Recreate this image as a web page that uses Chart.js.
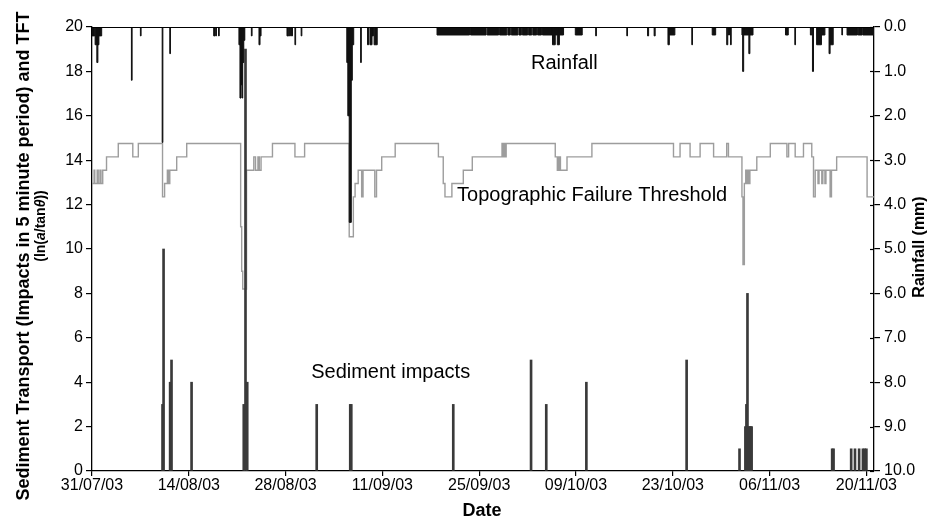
<!DOCTYPE html>
<html>
<head>
<meta charset="utf-8">
<title>Sediment transport, TFT and rainfall</title>
<script src="https://cdn.jsdelivr.net/npm/chart.js@4.4.1/dist/chart.umd.min.js"></script>
<style>
    html, body { margin: 0; padding: 0; background: #fff; }
    #wrap { width: 927px; height: 522px; }
</style>
</head>
<body>
<div id="wrap"><canvas id="chart" width="927" height="522"></canvas></div>
<script>
// all x values are days counted from 31/07/03
var dateTickDays = [0, 14, 28, 42, 56, 70, 84, 98, 112];
var dateTickLabels = ['31/07/03', '14/08/03', '28/08/03', '11/09/03', '25/09/03',
    '09/10/03', '23/10/03', '06/11/03', '20/11/03'];

// rainfall spells: start day, end day, depth (mm)
var rainStart = [0.0, 0.45, 0.7, 0.85, 1.0, 5.7, 7.0, 10.15, 11.25, 17.6,
    17.9, 18.3, 21.25, 21.4, 21.55, 21.7, 21.8, 21.95, 23.05, 24.15,
    24.3, 28.2, 28.55, 28.85, 29.35, 30.25, 36.85, 37.0, 37.2, 37.5,
    37.65, 38.85, 39.85, 40.2, 40.5, 40.8, 49.9, 54.75, 57.15, 58.95,
    60.15, 60.65, 61.75, 62.25, 63.15, 63.75, 64.45, 65.15, 66.6, 67.0,
    67.3, 67.6, 69.9, 72.85, 77.35, 80.35, 81.3, 83.3, 83.5, 86.75,
    89.7, 91.8, 92.05, 92.35, 94.0, 94.1, 94.25, 95.0, 95.15, 100.3,
    101.65, 103.9, 104.2, 104.8, 105.5, 106.6, 106.75, 108.45, 109.2, 110.8,
    111.5];
var rainEnd = [0.4, 0.65, 0.85, 1.0, 1.4, 5.8, 7.1, 10.25, 11.35, 17.8,
    18.0, 18.4, 21.4, 21.55, 21.7, 21.8, 21.95, 22.1, 23.15, 24.3,
    24.45, 28.45, 28.7, 29.0, 29.45, 30.35, 37.0, 37.2, 37.5, 37.65,
    37.85, 38.95, 40.0, 40.5, 40.7, 41.25, 54.6, 57.0, 58.8, 60.0,
    60.5, 61.6, 62.1, 63.0, 63.6, 64.3, 65.0, 66.6, 67.0, 67.3,
    67.6, 68.2, 70.9, 72.95, 77.45, 80.5, 81.45, 83.5, 84.3, 86.85,
    90.2, 91.95, 92.2, 92.45, 94.1, 94.25, 95.0, 95.15, 95.6, 100.7,
    101.75, 104.1, 104.35, 105.5, 106.0, 106.75, 107.2, 108.55, 110.7, 111.4,
    113.1];
var rainMm = [0.2, 0.4, 0.8, 0.4, 0.2, 1.2, 0.2, 2.6, 0.6, 0.2,
    0.2, 0.2, 0.4, 1.6, 1.3, 1.6, 0.8, 0.3, 0.2, 0.4,
    0.2, 0.2, 0.2, 0.2, 0.4, 0.2, 0.8, 2.0, 4.4, 1.2,
    0.4, 0.8, 0.4, 0.4, 0.2, 0.4, 0.18, 0.18, 0.18, 0.18,
    0.18, 0.18, 0.18, 0.18, 0.18, 0.18, 0.18, 0.18, 0.4, 0.18,
    0.4, 0.18, 0.18, 0.2, 0.2, 0.2, 0.2, 0.4, 0.18, 0.4,
    0.18, 0.4, 0.18, 0.4, 0.18, 1.0, 0.18, 0.6, 0.18, 0.18,
    0.4, 0.18, 1.0, 0.4, 0.18, 0.6, 0.4, 0.18, 0.18, 0.18,
    0.18];

// topographic failure threshold, ln(a/tan theta), held until the next change
var tftDays = [0, 0.3, 0.4, 0.75, 0.9, 1.15, 1.3, 1.55, 2.1, 3.8,
    5.9, 6.7, 10.2, 10.5, 10.9, 11.05, 11.25, 12.25, 13.7, 21.5,
    21.65, 21.8, 22.35, 23.4, 23.65, 24.0, 24.2, 24.45, 26.1, 29.35,
    30.75, 37.2, 37.8, 38.05, 38.5, 39.0, 39.2, 40.9, 41.15, 41.9,
    43.85, 50.1, 50.8, 51.05, 52.05, 53.7, 55.0, 59.3, 59.45, 59.6,
    59.75, 59.9, 67.0, 67.3, 67.4, 67.5, 67.65, 67.75, 68.7, 72.3,
    84.1, 85.05, 86.5, 87.95, 89.9, 91.8, 92.05, 94.0, 94.15, 94.35,
    94.55, 94.7, 94.85, 95.0, 95.15, 96.15, 98.1, 100.5, 100.75, 101.7,
    102.9, 104.1, 104.35, 104.6, 105.0, 105.15, 105.55, 105.7, 106.0, 106.15,
    106.75, 106.95, 107.7, 112.1, 113.1];
var tftValues = [12.95, 13.55, 12.95, 13.55, 12.95, 13.55, 12.95, 13.55, 14.15, 14.75,
    14.15, 14.75, 12.35, 12.95, 13.55, 12.95, 13.55, 14.15, 14.75, 11.0,
    9.0, 8.2, 13.55, 14.15, 13.55, 14.15, 13.55, 14.15, 14.75, 14.15,
    14.75, 10.55, 12.35, 12.95, 13.55, 12.35, 13.55, 12.35, 13.55, 14.15,
    14.75, 14.15, 12.95, 12.35, 12.95, 13.55, 14.15, 14.75, 14.15, 14.75,
    14.15, 14.75, 14.15, 13.55, 14.15, 13.55, 14.15, 13.55, 14.15, 14.75,
    14.15, 14.75, 14.15, 14.75, 14.15, 14.75, 14.15, 12.35, 9.3, 12.95,
    13.55, 12.95, 13.55, 12.95, 13.55, 14.15, 14.75, 14.15, 14.75, 14.15,
    14.75, 14.15, 12.35, 13.55, 12.95, 13.55, 12.95, 13.55, 12.95, 13.55,
    12.35, 13.55, 14.15, 12.35, 12.35];

// sediment impacts in a 5 minute period
var sedDays = [10.2, 10.35, 11.3, 11.5, 14.4, 21.95, 22.2, 22.45, 32.5, 37.35,
    37.5, 52.25, 63.5, 65.7, 71.5, 86.0, 93.65, 94.5, 94.65, 94.8,
    94.95, 95.1, 95.25, 95.4, 107.05, 107.25, 109.8, 110.35, 110.95, 111.5,
    111.75, 112.0];
var sedImpacts = [3, 10, 4, 5, 4, 3, 19, 4, 3, 3,
    3, 3, 5, 3, 4, 5, 1, 2, 3, 8,
    2, 2, 2, 2, 1, 1, 1, 1, 1, 1,
    1, 1];

var FONT = '"Liberation Sans", Arial, Helvetica, sans-serif';

document.addEventListener('DOMContentLoaded', function () {
    var rainPoints = [{ x: 0, y: 0 }];
    for (var i = 0; i < rainStart.length; i++) {
        rainPoints.push({ x: rainStart[i], y: rainMm[i] });
        rainPoints.push({ x: rainEnd[i], y: 0 });
    }

    var tftPoints = tftDays.map(function (d, i) {
        return { x: d, y: tftValues[i] };
    });
    var sedPoints = sedDays.map(function (d, i) {
        return { x: d, y: sedImpacts[i] };
    });

    var figureText = {
        id: 'figureText',
        afterDraw: function (chart) {
            var ctx = chart.ctx;
            var area = chart.chartArea;
            var sx = chart.scales.x;
            var sy = chart.scales.y;
            var sy2 = chart.scales.y2;

            ctx.save();
            ctx.strokeStyle = '#000';
            ctx.lineWidth = 1.2;
            // right axis ticks cross the axis line
            sy2.ticks.forEach(function (t) {
                var py = Math.round(sy2.getPixelForValue(t.value)) + 0.5;
                ctx.beginPath();
                ctx.moveTo(area.right - 4, py);
                ctx.lineTo(area.right, py);
                ctx.stroke();
            });
            ctx.beginPath();
            ctx.moveTo(area.left, area.top + 0.5);
            ctx.lineTo(area.right, area.top + 0.5);
            ctx.stroke();

            // labels inside the plot
            ctx.fillStyle = '#000';
            ctx.font = '20px ' + FONT;
            ctx.textAlign = 'left';
            ctx.textBaseline = 'alphabetic';
            ctx.fillText('Rainfall', sx.getPixelForValue(63.5), sy.getPixelForValue(18.1));
            ctx.fillText('Topographic Failure Threshold', sx.getPixelForValue(52.8), sy.getPixelForValue(12.14));
            ctx.fillText('Sediment impacts', sx.getPixelForValue(31.7), sy.getPixelForValue(4.17));

            // axis titles
            ctx.textAlign = 'center';
            ctx.textBaseline = 'middle';
            ctx.font = 'bold 18px ' + FONT;
            ctx.fillText('Date', 482, 511);

            ctx.save();
            ctx.translate(24, 256);
            ctx.rotate(-Math.PI / 2);
            ctx.fillText('Sediment Transport (Impacts in 5 minute period) and TFT', 0, 0);
            ctx.restore();

            var parts = [['(ln(', 'bold'], ['a', 'italic bold'], ['/tan', 'bold'], ['\u03b8', 'italic bold'], ['))', 'bold']];
            var total = 0;
            parts.forEach(function (p) {
                ctx.font = p[1] + ' 14px ' + FONT;
                total += ctx.measureText(p[0]).width;
            });
            ctx.save();
            ctx.translate(41, 226);
            ctx.rotate(-Math.PI / 2);
            ctx.textAlign = 'left';
            var px = -total / 2;
            parts.forEach(function (p) {
                ctx.font = p[1] + ' 14px ' + FONT;
                ctx.fillText(p[0], px, 0);
                px += ctx.measureText(p[0]).width;
            });
            ctx.restore();

            ctx.save();
            ctx.translate(920, 247);
            ctx.rotate(-Math.PI / 2);
            ctx.font = 'bold 16px ' + FONT;
            ctx.fillText('Rainfall (mm)', 0, 0);
            ctx.restore();

            ctx.restore();
        }
    };

    var tickFont = { family: FONT, size: 16 };

    new Chart(document.getElementById('chart'), {
        type: 'bar',
        data: {
            datasets: [
                {
                    type: 'line',
                    label: 'Rainfall',
                    data: rainPoints,
                    yAxisID: 'y2',
                    stepped: 'before',
                    fill: 'origin',
                    backgroundColor: '#111',
                    borderColor: '#111',
                    borderWidth: 1,
                    pointRadius: 0,
                    order: 0
                },
                {
                    type: 'bar',
                    label: 'Sediment impacts',
                    data: sedPoints,
                    yAxisID: 'y',
                    backgroundColor: '#3a3a3a',
                    barThickness: 2,
                    grouped: false,
                    order: 1
                },
                {
                    type: 'line',
                    label: 'Topographic Failure Threshold',
                    data: tftPoints,
                    yAxisID: 'y',
                    stepped: 'before',
                    fill: false,
                    borderColor: '#9d9d9d',
                    borderWidth: 1.4,
                    pointRadius: 0,
                    order: 2
                }
            ]
        },
        options: {
            responsive: false,
            animation: false,
            layout: { padding: { top: 27, left: 0, right: 0, bottom: 0 } },
            plugins: {
                legend: { display: false },
                tooltip: { enabled: false }
            },
            scales: {
                x: {
                    type: 'linear',
                    min: 0,
                    max: 113.1,
                    offset: false,
                    afterBuildTicks: function (scale) {
                        scale.ticks = dateTickDays.map(function (d) { return { value: d }; });
                    },
                    afterFit: function (scale) { scale.height = 51; },
                    ticks: {
                        autoSkip: false,
                        maxRotation: 0,
                        padding: 0,
                        color: '#000',
                        font: tickFont,
                        callback: function (value, index) { return dateTickLabels[index]; }
                    },
                    grid: { drawOnChartArea: false, drawTicks: true, tickLength: 5, color: '#000', lineWidth: 1.2, offset: false },
                    border: { display: true, color: '#000', width: 1.3 }
                },
                y: {
                    position: 'left',
                    min: 0,
                    max: 20,
                    afterFit: function (scale) { scale.width = 92; },
                    ticks: { stepSize: 2, padding: 3, color: '#000', font: tickFont },
                    grid: { drawOnChartArea: false, drawTicks: true, tickLength: 6, color: '#000', lineWidth: 1.2 },
                    border: { display: true, color: '#000', width: 1.3 }
                },
                y2: {
                    position: 'right',
                    min: 0,
                    max: 10,
                    reverse: true,
                    afterFit: function (scale) { scale.width = 53; },
                    ticks: {
                        stepSize: 1,
                        padding: 4,
                        color: '#000',
                        font: tickFont,
                        callback: function (value) { return value.toFixed(1); }
                    },
                    grid: { drawOnChartArea: false, drawTicks: true, tickLength: 6, color: '#000', lineWidth: 1.2 },
                    border: { display: true, color: '#000', width: 1.3 }
                }
            }
        },
        plugins: [figureText]
    });
});
</script>
</body>
</html>
